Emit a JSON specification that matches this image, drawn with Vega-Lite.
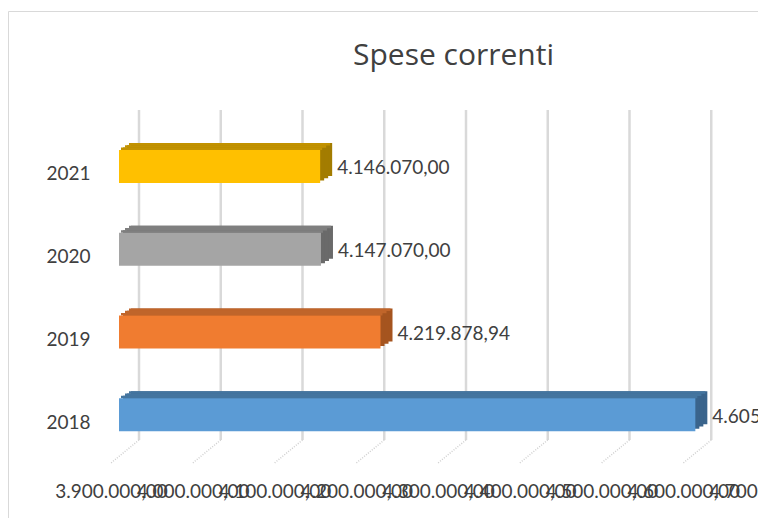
{
"$schema":"https://vega.github.io/schema/vega-lite/v6.json",
"width":750,"height":507,"autosize":"none",
"padding":{"left":8,"top":11,"right":0,"bottom":0},
"background":"#ffffff",
"config":{"locale":{"number":{"decimal":",","thousands":".","grouping":[3],"currency":["","€"]}},"view":{"stroke":"#d9d9d9","strokeWidth":1},"font":"Lato"},
"title":{"text":"Spese correnti","anchor":"start","frame":"group","dx":345,"dy":64,"fontSize":30,"fontWeight":"normal","font":"Open Sans","color":"#404040"},
"datasets":{
"bars":[{"year":"2021","value":4146070},{"year":"2020","value":4147070},{"year":"2019","value":4219878.94},{"year":"2018","value":4605000}],
"grid":[{"value":3900000},{"value":4000000},{"value":4100000},{"value":4200000},{"value":4300000},{"value":4400000},{"value":4500000},{"value":4600000}]
},
"encoding":{
"x":{"field":"value","type":"quantitative","scale":{"domain":[3900000,4700000],"range":[111,765],"zero":false,"nice":false,"clamp":false},
"axis":{"values":[3900000,4000000,4100000,4200000,4300000,4400000,4500000,4600000,4700000],"format":",.2f","title":null,"domain":false,"ticks":false,"grid":false,"labelOverlap":false,"labelBound":false,"labelFlush":false,"labelOffset":-8,"offset":-36,"labelPadding":0,"labelFontSize":19,"labelColor":"#404040","labelFont":"Lato"}},
"y":{"field":"year","type":"nominal","sort":["2021","2020","2019","2018"],"scale":{"range":[114,445],"paddingInner":0,"paddingOuter":0},
"axis":{"title":null,"domain":false,"ticks":false,"grid":false,"orient":"left","offset":-82,"labelPadding":0,"labelAlign":"right","labelFontSize":19,"labelColor":"#404040","labelOffset":8,"labelFont":"Lato"}}
},
"layer":[
{"data":{"name":"grid"},"mark":{"type":"rule","stroke":"#d9d9d9","strokeWidth":2.5,"xOffset":20,"x2Offset":20,"yOffset":99,"y2Offset":-78},"encoding":{"y":{"value":0},"y2":{"value":507}}},
{"data":{"name":"grid"},"mark":{"type":"point","shape":"M1,-0.82L-1,0.82","size":784,"stroke":"#d0d0d0","strokeWidth":1.5,"strokeDash":[1,1.5],"filled":false,"opacity":1,"xOffset":6,"yOffset":187},"encoding":{"y":{"value":253.5}}},
{"data":{"name":"bars"},"mark":{"type":"bar","size":33,"xOffset":12,"x2Offset":12,"yOffset":-7},"encoding":{"x2":{"datum":3900000},"color":{"field":"year","legend":null,"scale":{"domain":["2021","2020","2019","2018"],"range":["#a37c00","#6a6a6a","#a5541f","#3a648c"]}}}},
{"data":{"name":"bars"},"mark":{"type":"bar","size":33,"xOffset":8,"x2Offset":8,"yOffset":-4.7},"encoding":{"x2":{"datum":3900000},"color":{"field":"year","legend":null,"scale":{"domain":["2021","2020","2019","2018"],"range":["#a37c00","#6a6a6a","#a5541f","#3a648c"]}}}},
{"data":{"name":"bars"},"mark":{"type":"bar","size":33,"xOffset":4,"x2Offset":4,"yOffset":-2.3},"encoding":{"x2":{"datum":3900000},"color":{"field":"year","legend":null,"scale":{"domain":["2021","2020","2019","2018"],"range":["#a37c00","#6a6a6a","#a5541f","#3a648c"]}}}},
{"data":{"name":"bars"},"mark":{"type":"bar","size":2.6,"xOffset":10,"x2Offset":10,"yOffset":-22.2},"encoding":{"x2":{"datum":3900000},"color":{"field":"year","legend":null,"scale":{"domain":["2021","2020","2019","2018"],"range":["#c29200","#7f7f7f","#c0652a","#44759f"]}}}},
{"data":{"name":"bars"},"mark":{"type":"bar","size":2.6,"xOffset":6,"x2Offset":6,"yOffset":-19.9},"encoding":{"x2":{"datum":3900000},"color":{"field":"year","legend":null,"scale":{"domain":["2021","2020","2019","2018"],"range":["#c29200","#7f7f7f","#c0652a","#44759f"]}}}},
{"data":{"name":"bars"},"mark":{"type":"bar","size":2.6,"xOffset":2,"x2Offset":2,"yOffset":-17.6},"encoding":{"x2":{"datum":3900000},"color":{"field":"year","legend":null,"scale":{"domain":["2021","2020","2019","2018"],"range":["#c29200","#7f7f7f","#c0652a","#44759f"]}}}},
{"data":{"name":"bars"},"mark":{"type":"bar","size":33},"encoding":{"x2":{"datum":3900000},"color":{"field":"year","legend":null,"scale":{"domain":["2021","2020","2019","2018"],"range":["#ffc000","#a5a5a5","#f07c30","#5b9bd5"]}}}},
{"data":{"name":"bars"},"mark":{"type":"text","align":"left","baseline":"middle","dx":17,"dy":2,"fontSize":19,"font":"Lato","color":"#404040"},"encoding":{"text":{"field":"value","type":"quantitative","format":",.2f"}}}
],
"resolve":{"scale":{"color":"independent"}}
}
